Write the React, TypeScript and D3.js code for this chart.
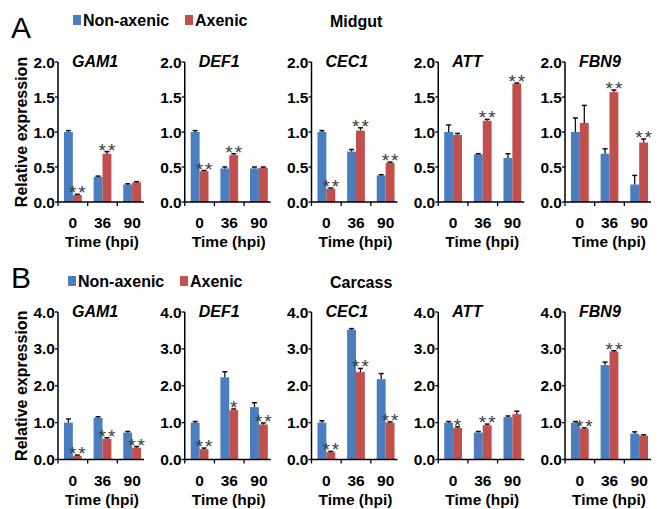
import * as d3 from 'd3';

const genes = ['GAM1', 'DEF1', 'CEC1', 'ATT', 'FBN9'];
const times = ['0', '36', '90'];
const seriesNames = ['Non-axenic', 'Axenic'];

// Midgut (panel A)
const midgutNon = [[1.0, 0.36, 0.25], [1.0, 0.48, 0.48], [1.0, 0.72, 0.38], [1.0, 0.68, 0.63], [1.0, 0.69, 0.25]];
const midgutNonErr = [[0.02, 0.01, 0.01], [0.02, 0.02, 0.02], [0.02, 0.03, 0.01], [0.1, 0.01, 0.06], [0.2, 0.07, 0.13]];
const midgutAx = [[0.1, 0.69, 0.28], [0.44, 0.67, 0.49], [0.19, 1.02, 0.56], [0.96, 1.16, 1.69], [1.13, 1.57, 0.85]];
const midgutAxErr = [[0.01, 0.03, 0.01], [0.01, 0.02, 0.01], [0.01, 0.04, 0.01], [0.02, 0.02, 0.01], [0.25, 0.03, 0.05]];
const midgutStars = [['**', '**', ''], ['**', '**', ''], ['**', '**', '**'], ['', '**', '**'], ['', '**', '**']];

// Carcass (panel B)
const carcassNon = [[1.0, 1.13, 0.73], [1.0, 2.23, 1.42], [1.0, 3.52, 2.18], [1.0, 0.73, 1.15], [1.0, 2.56, 0.7]];
const carcassNonErr = [[0.1, 0.03, 0.03], [0.03, 0.15, 0.12], [0.05, 0.03, 0.15], [0.03, 0.03, 0.03], [0.03, 0.08, 0.05]];
const carcassAx = [[0.1, 0.56, 0.32], [0.28, 1.34, 0.95], [0.2, 2.37, 1.0], [0.86, 0.93, 1.23], [0.84, 2.93, 0.65]];
const carcassAxErr = [[0.02, 0.03, 0.03], [0.03, 0.03, 0.04], [0.02, 0.1, 0.02], [0.03, 0.03, 0.08], [0.02, 0.02, 0.02]];
const carcassStars = [['**', '**', '**'], ['**', '*', '**'], ['**', '**', '**'], ['*', '**', ''], ['**', '**', '']];

const midgutTicks = [0, 0.5, 1.0, 1.5, 2.0];
const carcassTicks = [0, 1, 2, 3, 4];

const colors = ['#4A7EBF', '#C0504D'];
const font = '"Liberation Sans", Arial, sans-serif';
const axisX = genes.map((_, i) => 58 + i * 126.75);

function Subplot({ x0, top, bottom, max, ticks, gene, non, nonErr, ax, axErr, stars }) {
    const y = d3.scaleLinear().domain([0, max]).range([bottom, top]);
    const xg = d3.scaleBand().domain(times).range([x0 + 3, x0 + 86]).paddingInner(0.4).paddingOuter(0.1);
    const xs = d3.scaleBand().domain(['0', '1']).range([0, xg.bandwidth()]);
    const bw = xs.bandwidth();
    const vals = [non, ax];
    const errs = [nonErr, axErr];
    const boundaries = times.slice(1).map(t => xg(t) - xg.step() * xg.paddingInner() / 2);

    return (
        <g>
            {times.map((t, j) => (
                <g key={t}>
                    {[0, 1].map(s => {
                        const v = vals[s][j];
                        const e = errs[s][j];
                        const bx = xg(t) + xs(String(s));
                        const cx = bx + bw / 2;
                        return (
                            <g key={s}>
                                <rect x={bx} y={y(v)} width={bw} height={bottom - y(v)} fill={colors[s]} />
                                <line x1={cx} x2={cx} y1={y(v)} y2={y(v + e)} stroke="#111" strokeWidth={1.3} />
                                <line x1={cx - 2.5} x2={cx + 2.5} y1={y(v + e)} y2={y(v + e)} stroke="#111" strokeWidth={1.5} />
                            </g>
                        );
                    })}
                    {stars[j] && (
                        <text x={xg(t) + xs('1') + bw / 2 + 1} y={y(ax[j] + axErr[j]) + 5} textAnchor="middle"
                            fontSize={19} letterSpacing={2} fill="#3a3a3a" fontFamily={font}>{stars[j]}</text>
                    )}
                    <text x={xg(t) + xg.bandwidth() / 2} y={bottom + 26} textAnchor="middle" fontSize={15.5}
                        fontWeight="bold" fontFamily={font}>{t}</text>
                </g>
            ))}
            <line x1={x0} x2={x0} y1={top} y2={bottom} stroke="#000" strokeWidth={1.5} />
            <line x1={x0} x2={x0 + 86} y1={bottom} y2={bottom} stroke="#000" strokeWidth={1.5} />
            {boundaries.concat([x0]).map((b, k) => (
                <line key={k} x1={b} x2={b} y1={bottom} y2={bottom + 4} stroke="#000" strokeWidth={1.3} />
            ))}
            {ticks.map(t => (
                <g key={t}>
                    <line x1={x0 - 3} x2={x0} y1={y(t)} y2={y(t)} stroke="#000" strokeWidth={1.3} />
                    <text x={x0 - 3} y={y(t)} dy="0.36em" textAnchor="end" fontSize={15.5} fontWeight="bold"
                        fontFamily={font}>{t.toFixed(1)}</text>
                </g>
            ))}
            <text x={x0 + 14} y={top + 5} fontSize={16} fontWeight="bold" fontStyle="italic" fontFamily={font}>{gene}</text>
            <text x={x0 + 44} y={bottom + 45} textAnchor="middle" fontSize={15.5} fontWeight="bold" fontFamily={font}>Time (hpi)</text>
        </g>
    );
}

function Panel({ letter, tissue, legendY, letterY, top, bottom, max, ticks, non, nonErr, ax, axErr, stars, legendX }) {
    return (
        <g>
            <text x={11} y={letterY} fontSize={30} fontFamily={font}>{letter}</text>
            <rect x={legendX} y={legendY - 11} width={8} height={10} fill={colors[0]} />
            <text x={legendX + 10} y={legendY} fontSize={16} fontWeight="bold" fontFamily={font}>{seriesNames[0]}</text>
            <rect x={legendX + 112} y={legendY - 11} width={8} height={10} fill={colors[1]} />
            <text x={legendX + 122} y={legendY} fontSize={16} fontWeight="bold" fontFamily={font}>{seriesNames[1]}</text>
            <text x={330} y={legendY + 1} fontSize={16} fontWeight="bold" fontFamily={font}>{tissue}</text>
            <text transform={`translate(21, ${(top + bottom) / 2}) rotate(-90)`} textAnchor="middle" dy="0.36em"
                fontSize={16} fontWeight="bold" fontFamily={font}>Relative expression</text>
            {genes.map((g, i) => (
                <Subplot key={g} x0={axisX[i]} top={top} bottom={bottom} max={max} ticks={ticks} gene={g}
                    non={non[i]} nonErr={nonErr[i]} ax={ax[i]} axErr={axErr[i]} stars={stars[i]} />
            ))}
        </g>
    );
}

export default function App() {
    return (
        <svg width={659} height={509} style={{ position: 'absolute', left: 0, top: 0, background: '#fff' }}>
            <Panel letter="A" tissue="Midgut" legendX={73} legendY={26} letterY={38} top={62} bottom={202} max={2}
                ticks={midgutTicks} non={midgutNon} nonErr={midgutNonErr} ax={midgutAx} axErr={midgutAxErr} stars={midgutStars} />
            <Panel letter="B" tissue="Carcass" legendX={68} legendY={287} letterY={288} top={312} bottom={459.5} max={4}
                ticks={carcassTicks} non={carcassNon} nonErr={carcassNonErr} ax={carcassAx} axErr={carcassAxErr} stars={carcassStars} />
        </svg>
    );
}
